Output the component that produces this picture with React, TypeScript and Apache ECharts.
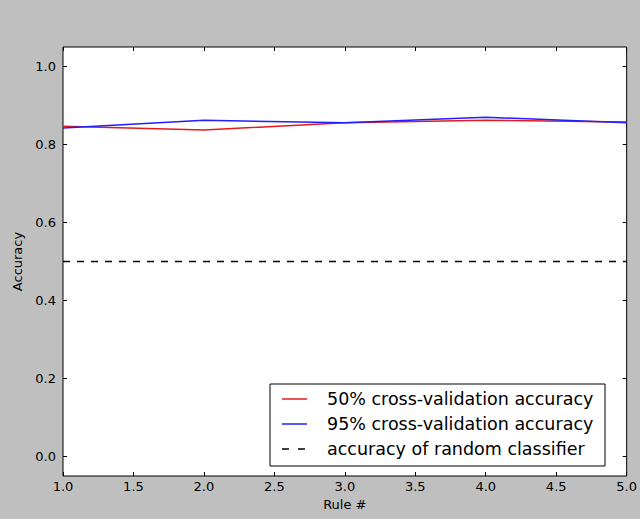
import React, { useEffect, useRef } from "react";
import * as echarts from "echarts";

const rules = [1, 2, 3, 4, 5];
const acc50 = [0.847, 0.837, 0.856, 0.862, 0.858];
const acc95 = [0.842, 0.862, 0.856, 0.870, 0.856];
const randomAcc = 0.5;
const yTicks = [0.0, 0.2, 0.4, 0.6, 0.8, 1.0];
const seriesNames = [
  "50% cross-validation accuracy",
  "95% cross-validation accuracy",
  "accuracy of random classifier",
];
const seriesColors = ["#e41a1c", "#1f1fff", "#000000"];

const FONT = "DejaVu Sans";

export default function App() {
  const ref = useRef<HTMLDivElement>(null);
  useEffect(() => {
    if (!ref.current) return;
    const chart = echarts.init(ref.current, null, { renderer: "svg" });
    const pts = (arr: number[]) => rules.map((r, i) => [r, arr[i]]);
    const tickCommon = { inside: true, length: 4, lineStyle: { color: "#000", width: 1 } };

    const legendX = 270;
    const legendY = 384;
    const rowYs = [399, 424, 449];
    const legendGraphics: any[] = [
      {
        type: "rect",
        shape: { x: legendX, y: legendY, width: 335, height: 82 },
        style: { fill: "#fff", stroke: "#000", lineWidth: 1 },
        z: 100,
      },
    ];
    seriesNames.forEach((n, i) => {
      legendGraphics.push({
        type: "line",
        shape: { x1: 282, y1: rowYs[i], x2: 307, y2: rowYs[i] },
        style: {
          stroke: seriesColors[i],
          lineWidth: 1.5,
          lineDash: i === 2 ? [7, 9] : null,
        },
        z: 101,
      });
      legendGraphics.push({
        type: "text",
        x: 327,
        y: rowYs[i],
        style: {
          text: n,
          fill: "#000",
          font: `17.5px "${FONT}"`,
          textVerticalAlign: "middle",
          verticalAlign: "middle",
        },
        z: 101,
      });
    });

    chart.setOption({
      animation: false,
      backgroundColor: "#bfbfbf",
      textStyle: { fontFamily: FONT },
      grid: {
        left: 63,
        right: 12,
        top: 47,
        bottom: 43,
        show: true,
        backgroundColor: "#ffffff",
        borderColor: "#000",
        borderWidth: 1,
      },
      graphic: legendGraphics,
      xAxis: [
        {
          type: "value",
          min: 1,
          max: 5,
          interval: 0.5,
          name: "Rule #",
          nameLocation: "middle",
          nameGap: 22,
          nameTextStyle: { fontFamily: FONT, fontSize: 13, color: "#000" },
          axisLine: { show: false, onZero: false },
          axisTick: tickCommon,
          axisLabel: {
            fontFamily: FONT,
            fontSize: 13,
            color: "#000",
            margin: 4,
            formatter: (v: number) => v.toFixed(1),
          },
          splitLine: { show: false },
        },
        {
          type: "value",
          position: "top",
          min: 1,
          max: 5,
          interval: 0.5,
          axisLine: { show: false, onZero: false },
          axisTick: tickCommon,
          axisLabel: { show: false },
          splitLine: { show: false },
        },
      ],
      yAxis: [
        {
          type: "value",
          min: -0.05,
          max: 1.05,
          name: "Accuracy",
          nameLocation: "middle",
          nameGap: 37,
          nameRotate: 90,
          nameTextStyle: { fontFamily: FONT, fontSize: 13, color: "#000" },
          axisLine: { show: false, onZero: false },
          axisTick: { ...tickCommon, customValues: yTicks },
          axisLabel: {
            fontFamily: FONT,
            fontSize: 13,
            color: "#000",
            margin: 7,
            customValues: yTicks,
            formatter: (v: number) => v.toFixed(1),
          },
          splitLine: { show: false },
        },
        {
          type: "value",
          position: "right",
          min: -0.05,
          max: 1.05,
          axisLine: { show: false, onZero: false },
          axisTick: { ...tickCommon, customValues: yTicks },
          axisLabel: { show: false, customValues: yTicks },
          splitLine: { show: false },
        },
      ],
      series: [
        {
          name: seriesNames[0],
          type: "line",
          data: pts(acc50),
          symbol: "none",
          lineStyle: { color: seriesColors[0], width: 1.5 },
          itemStyle: { color: seriesColors[0] },
        },
        {
          name: seriesNames[1],
          type: "line",
          data: pts(acc95),
          symbol: "none",
          lineStyle: { color: seriesColors[1], width: 1.5 },
          itemStyle: { color: seriesColors[1] },
        },
        {
          name: seriesNames[2],
          type: "line",
          data: [
            [1, randomAcc],
            [5, randomAcc],
          ],
          symbol: "none",
          lineStyle: { color: seriesColors[2], width: 1.3, type: [7, 7] },
          itemStyle: { color: seriesColors[2] },
        },
      ],
    });
    return () => chart.dispose();
  }, []);
  return (
    <div
      ref={ref}
      style={{ position: "fixed", left: 0, top: 0, width: 640, height: 519 }}
    />
  );
}
